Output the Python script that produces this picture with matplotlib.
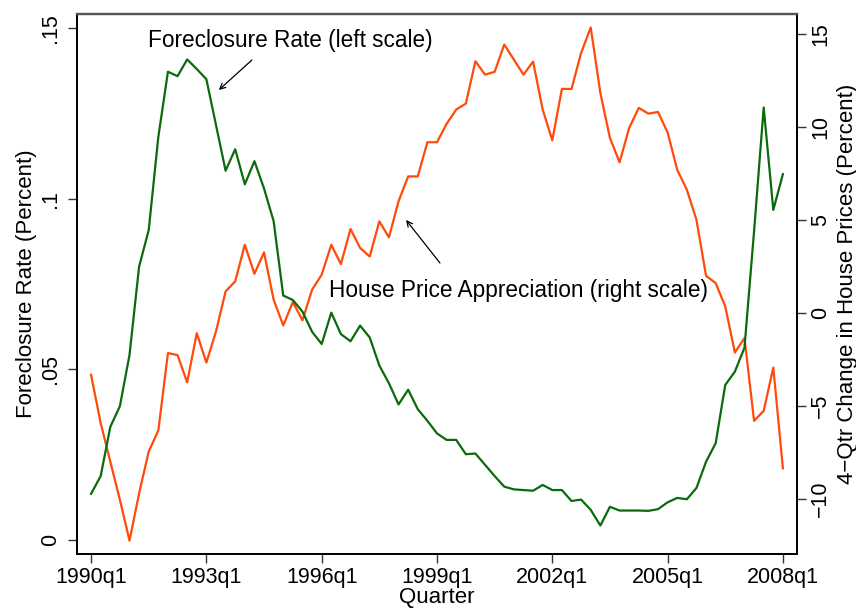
import numpy as np
import matplotlib
matplotlib.use("Agg")
import matplotlib.pyplot as plt

plt.rcParams["font.family"] = ["Liberation Sans", "DejaVu Sans"]

# ------------------------------------------------------------ data
# quarterly, 1990q1 .. 2008q1 (73 quarters)
quarters = [f"{y}q{q}" for y in range(1990, 2009) for q in range(1, 5)][:73]

foreclosure = [
    0.0135, 0.0187, 0.0331, 0.0392, 0.0542, 0.0801, 0.0908, 0.1181, 0.1372, 0.1359,
    0.1408, 0.1380, 0.1350, 0.1216, 0.1082, 0.1145, 0.1042, 0.1110, 0.1030, 0.0934,
    0.0716, 0.0703, 0.0669, 0.0610, 0.0574, 0.0666, 0.0603, 0.0582, 0.0628, 0.0593,
    0.0511, 0.0459, 0.0397, 0.0440, 0.0383, 0.0349, 0.0312, 0.0293, 0.0293, 0.0251,
    0.0253, 0.0220, 0.0187, 0.0156, 0.0148, 0.0146, 0.0144, 0.0161, 0.0146, 0.0146,
    0.0114, 0.0118, 0.0088, 0.0042, 0.0097, 0.0086, 0.0086, 0.0086, 0.0085, 0.0090,
    0.0110, 0.0123, 0.0119, 0.0152, 0.0229, 0.0283, 0.0454, 0.0493, 0.0563, 0.0905,
    0.1267, 0.0967, 0.1072,
]

hpa = [
    -3.34, -5.94, -8.01, -10.07, -12.27, -9.72, -7.47, -6.34, -2.17, -2.28,
    -3.75, -1.10, -2.68, -1.01, 1.15, 1.69, 3.66, 2.10, 3.25, 0.70,
    -0.68, 0.58, -0.41, 1.24, 2.05, 3.66, 2.62, 4.51, 3.49, 3.03,
    4.92, 4.06, 6.00, 7.34, 7.34, 9.18, 9.18, 10.17, 10.94, 11.26,
    13.54, 12.82, 12.97, 14.44, 13.63, 12.82, 13.52, 10.94, 9.28, 12.05,
    12.05, 13.99, 15.36, 11.84, 9.41, 8.10, 9.95, 11.03, 10.72, 10.81,
    9.71, 7.70, 6.63, 5.01, 1.99, 1.60, 0.34, -2.14, -1.36, -5.82,
    -5.28, -2.95, -8.37,
]

left_ticks = [0, 0.05, 0.1, 0.15]
left_labels = ["0", ".05", ".1", ".15"]
right_ticks = [-10, -5, 0, 5, 10, 15]
right_labels = ["\u221210", "\u22125", "0", "5", "10", "15"]
x_tick_labels = ["1990q1", "1993q1", "1996q1", "1999q1", "2002q1", "2005q1", "2008q1"]

# ------------------------------------------------------------ plot
x = np.arange(len(quarters))
x_ticks = [quarters.index(s) for s in x_tick_labels]

fig = plt.figure(figsize=(8.56, 6.12), dpi=100)
ax = fig.add_axes([0.090, 0.095, 0.841, 0.882])
ax2 = ax.twinx()

green = "#0b6a0b"
orange = "#ff4a0a"

ax.plot(x, foreclosure, color=green, lw=1.6, zorder=3)
ax2.plot(x, hpa, color=orange, lw=1.6, zorder=2)

ax.set_xlim(-1.46, 73.46)
ax.set_ylim(-0.0041, 0.1541)
ax2.set_ylim(-12.98, 16.08)

fs_tick = 15.5
fs_lab = 16
fs_ann = 16.3

ax.set_xticks(x_ticks)
ax.set_xticklabels(x_tick_labels, fontsize=fs_tick)
ax.set_yticks(left_ticks)
ax.set_yticklabels(left_labels, fontsize=fs_tick, rotation=90, va="center")
ax2.set_yticks(right_ticks)
ax2.set_yticklabels(right_labels, fontsize=fs_tick, rotation=90, va="center")

for a in (ax, ax2):
    a.tick_params(direction="out", length=6.5, width=1.0, color="#333333")
    for side in ("left", "right", "bottom"):
        a.spines[side].set_linewidth(1.3)
        a.spines[side].set_color("black")
    a.spines["top"].set_linewidth(1.6)
    a.spines["top"].set_color("#555555")
ax.tick_params(axis="x", pad=3)
ax.tick_params(axis="y", pad=5)
ax2.tick_params(axis="y", pad=3)

ax.set_xlabel("Quarter", fontsize=fs_lab, labelpad=-1)
ax.set_ylabel("Foreclosure Rate (Percent)", fontsize=fs_lab, labelpad=2)
ax2.set_ylabel("4\u2212Qtr Change in House Prices (Percent)", fontsize=fs_lab, labelpad=4)

# annotations (left-scale coordinates)
ax.annotate("", xy=(13.08, 0.1313), xytext=(16.96, 0.1412),
            arrowprops=dict(arrowstyle="->", lw=0.9, color="black"))
ax.text(5.93, 0.1465, "Foreclosure Rate (left scale)", fontsize=fs_ann,
        ha="left", va="center")

ax.annotate("", xy=(32.6, 0.0944), xytext=(36.49, 0.0805),
            arrowprops=dict(arrowstyle="->", lw=0.9, color="black"))
ax.text(24.76, 0.0732, "House Price Appreciation (right scale)", fontsize=fs_ann,
        ha="left", va="center", zorder=5)

ax.set_zorder(ax2.get_zorder() + 1)
ax.patch.set_visible(False)

fig.savefig("out.png", dpi=100)
